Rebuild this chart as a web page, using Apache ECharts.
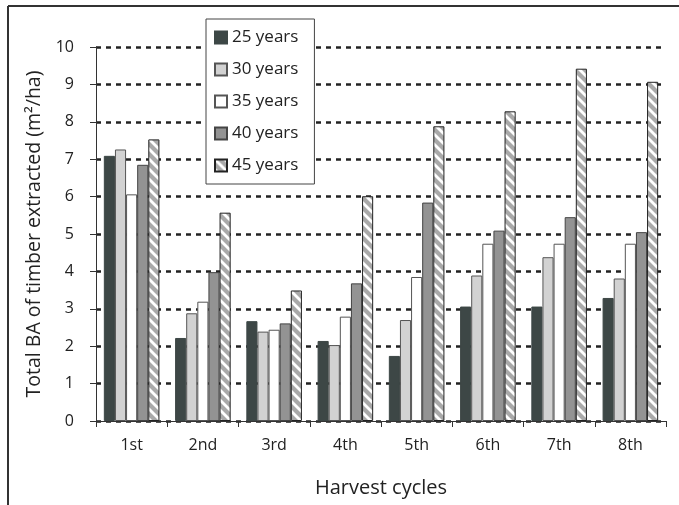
<!DOCTYPE html>
<html>
<head>
<meta charset="utf-8">
<script src="https://cdn.jsdelivr.net/npm/echarts@6/dist/echarts.min.js"></script>
<style>html,body{margin:0;padding:0;background:#fff;}#c{width:679px;height:505px;}</style>
</head>
<body>
<div id="c"></div>
<script>
var categories = ['1st','2nd','3rd','4th','5th','6th','7th','8th'];
var y25 = [7.09, 2.22, 2.67, 2.14, 1.74, 3.06, 3.06, 3.29];
var y30 = [7.26, 2.88, 2.39, 2.03, 2.70, 3.89, 4.38, 3.81];
var y35 = [6.06, 3.19, 2.44, 2.79, 3.85, 4.74, 4.74, 4.74];
var y40 = [6.85, 3.98, 2.61, 3.68, 5.84, 5.09, 5.45, 5.05];
var y45 = [7.53, 5.57, 3.49, 6.01, 7.88, 8.28, 9.42, 9.07];
var seriesNames = ['25 years','30 years','35 years','40 years','45 years'];
var yTicks = [0,1,2,3,4,5,6,7,8,9,10];

function hatch() {
  var c = document.createElement('canvas');
  c.width = 10; c.height = 10;
  var g = c.getContext('2d');
  g.fillStyle = '#a9a9a9';
  g.fillRect(0,0,10,10);
  g.strokeStyle = '#ffffff';
  g.lineWidth = 2.8;
  for (var k = -1; k <= 1; k++) {
    g.beginPath();
    g.moveTo(k*10 - 1, -1);
    g.lineTo(k*10 + 11, 11);
    g.stroke();
  }
  return {image: c, repeat: 'repeat'};
}

var fills = ['#3d4746', '#d2d2d2', '#ffffff', '#939393', hatch()];
var borders = ['#3d4746', '#555555', '#555555', '#444444', '#222222'];
var datas = [y25, y30, y35, y40, y45];
var font = 'Open Sans';

var chart = echarts.init(document.getElementById('c'), null, {renderer: 'canvas'});
chart.setOption({
  animation: false,
  backgroundColor: '#ffffff',
  textStyle: {fontFamily: font, color: '#222'},
  grid: {left: 96, right: 13, top: 47, bottom: 84, containLabel: false},
  legend: {
    orient: 'vertical', left: 206, top: 19,
    backgroundColor: '#ffffff', borderColor: '#444', borderWidth: 1,
    padding: [10, 16, 10, 8],
    itemWidth: 12, itemHeight: 12, itemGap: 15,
    icon: 'rect',
    textStyle: {fontFamily: font, fontSize: 17, color: '#222', lineHeight: 15},
    data: seriesNames
  },
  xAxis: {
    type: 'category', data: categories,
    name: 'Harvest cycles', nameLocation: 'middle', nameGap: 57,
    nameTextStyle: {fontFamily: font, fontSize: 20, color: '#222'},
    axisLine: {lineStyle: {color: '#333', width: 1}},
    axisTick: {show: true, length: 6, lineStyle: {color: '#333'}},
    axisLabel: {fontFamily: font, fontSize: 16, color: '#222', margin: 16}
  },
  yAxis: {
    type: 'value', min: yTicks[0], max: yTicks[yTicks.length-1], interval: 1,
    name: 'Total BA of timber extracted (m\u00b2/ha)', nameLocation: 'middle', nameGap: 44,
    nameTextStyle: {fontFamily: font, fontSize: 19.5, color: '#222'},
    axisLine: {show: true, lineStyle: {color: '#333', width: 1}},
    axisTick: {show: true, length: 6, lineStyle: {color: '#333'}},
    axisLabel: {fontFamily: font, fontSize: 16, color: '#222', margin: 22},
    splitLine: {show: true, lineStyle: {color: '#222', width: 2.5, type: [5, 5]}}
  },
  graphic: [
    {type: 'line', shape: {x1: 8, y1: 6, x2: 679, y2: 6}, style: {stroke: '#333', lineWidth: 2}, z: 100},
    {type: 'line', shape: {x1: 8, y1: 6, x2: 8, y2: 505}, style: {stroke: '#333', lineWidth: 2}, z: 100}
  ],
  series: seriesNames.map(function (n, i) {
    return {
      name: n, type: 'bar', data: datas[i],
      barGap: 0, barCategoryGap: '22%',
      itemStyle: {color: fills[i], borderColor: borders[i], borderWidth: 1}
    };
  })
});
</script>
</body>
</html>
